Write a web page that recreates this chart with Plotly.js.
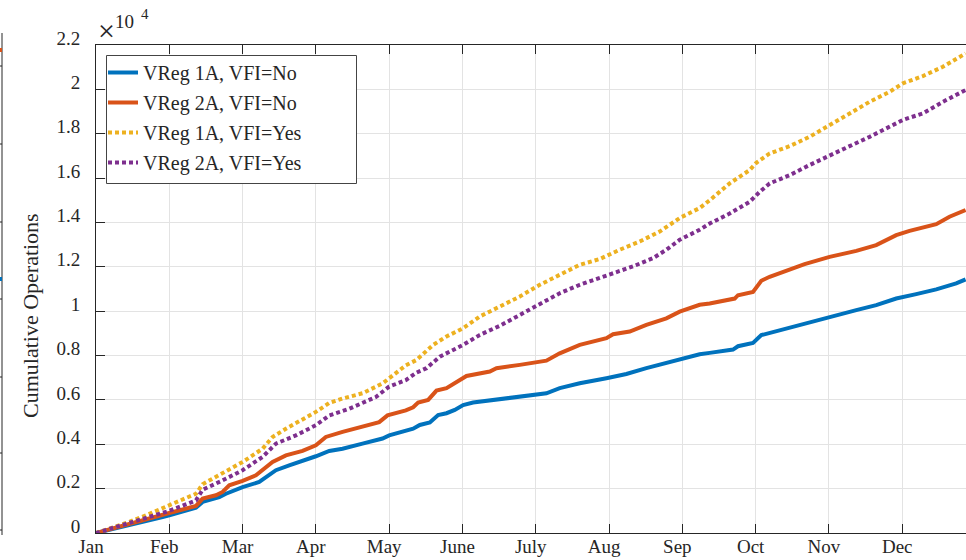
<!DOCTYPE html>
<html>
<head>
<meta charset="utf-8">
<script src="https://cdn.plot.ly/plotly-3.0.1.min.js"></script>
<style>html,body{margin:0;padding:0;background:#fff;}#chart{width:966px;height:560px;}</style>
</head>
<body>
<div id="chart"></div>
<script>
// Month tick labels (x positions are month indices, Jan = 0)
const monthLabels = ['Jan','Feb','Mar','Apr','May','June','July','Aug','Sep','Oct','Nov','Dec'];
const monthTicks = [0,1,2,3,4,5,6,7,8,9,10,11];
const yTickVals = [0,2000,4000,6000,8000,10000,12000,14000,16000,18000,20000,22000];
const yTickText = ['0','0.2','0.4','0.6','0.8','1','1.2','1.4','1.6','1.8','2','2.2'];

const seriesNames = ['VReg 1A, VFI=No','VReg 2A, VFI=No','VReg 1A, VFI=Yes','VReg 2A, VFI=Yes'];

// VReg 1A, VFI=No
const xReg1No = [0,0.227,0.455,0.682,0.909,1.0,1.182,1.364,1.455,1.545,1.682,1.773,2.0,2.227,2.273,2.455,2.636,2.818,3.0,3.182,3.364,3.636,3.909,4.0,4.227,
  4.327,4.418,4.555,4.668,4.782,4.895,5.009,5.145,5.418,5.691,5.964,6.145,6.327,6.6,6.964,7.236,7.509,7.782,7.964,8.236,
  8.373,8.691,8.759,8.964,9.077,9.191,9.464,9.736,10.009,10.373,10.645,10.918,11.191,11.464,11.736,11.864];
const yReg1No = [0,170,350,540,720,800,950,1140,1400,1500,1620,1770,2070,2300,2400,2830,3050,3250,3460,3700,3800,4030,4260,4400,4630,
  4700,4870,4980,5320,5400,5550,5770,5880,6000,6120,6230,6300,6530,6750,6980,7170,7430,7650,7830,8060,
  8120,8270,8420,8570,8920,9020,9260,9520,9770,10050,10270,10570,10770,10980,11250,11430];

// VReg 2A, VFI=No
const xReg2No = [0,0.455,0.682,1.0,1.364,1.455,1.636,1.727,1.818,2.0,2.182,2.273,2.409,2.591,2.818,3.0,3.136,3.364,3.591,3.864,3.977,4.227,
  4.327,4.395,4.532,4.645,4.782,4.941,5.055,5.373,5.464,5.782,5.964,6.145,6.327,6.509,6.6,6.964,7.055,7.282,7.509,7.782,7.964,8.236,
  8.373,8.714,8.759,8.964,9.077,9.191,9.464,9.668,10.009,10.373,10.645,10.918,11.1,11.464,11.645,11.864];
const yReg2No = [0,420,650,900,1220,1550,1700,1850,2150,2350,2600,2830,3200,3500,3700,3950,4330,4560,4780,5000,5300,5530,
  5670,5880,6000,6420,6530,6870,7080,7280,7430,7580,7680,7770,8100,8330,8480,8780,8960,9080,9380,9680,9980,10290,
  10350,10570,10720,10870,11370,11550,11880,12120,12450,12720,12980,13430,13620,13920,14260,14560];

// VReg 1A, VFI=Yes
const xReg1Yes = [0,0.455,0.682,1.0,1.364,1.455,1.727,2.0,2.273,2.409,2.591,2.818,3.0,3.182,3.364,3.636,3.909,4.227,
  4.373,4.6,4.782,5.009,5.236,5.509,5.782,6.055,6.327,6.6,6.873,7.145,7.418,7.691,7.964,8.236,
  8.373,8.645,8.918,9.009,9.191,9.464,9.736,10.009,10.282,10.555,10.827,11.009,11.282,11.555,11.864];
const yReg1Yes = [0,500,800,1250,1770,2200,2680,3200,3800,4330,4700,5100,5460,5860,6060,6300,6740,7560,
  7800,8480,8860,9230,9760,10210,10660,11190,11640,12090,12350,12770,13140,13590,14200,14650,
  15000,15760,16360,16690,17110,17440,17860,18390,18890,19440,19890,20270,20600,21020,21620];

// VReg 2A, VFI=Yes
const xReg2Yes = [0,0.455,0.682,1.0,1.364,1.455,1.727,2.0,2.273,2.455,2.727,3.0,3.182,3.455,3.818,4.0,4.227,
  4.373,4.509,4.691,5.009,5.236,5.509,5.782,6.055,6.327,6.6,6.873,7.055,7.327,7.6,7.782,7.964,8.236,
  8.373,8.645,8.918,9.055,9.191,9.464,9.736,10.009,10.282,10.555,10.827,11.009,11.282,11.555,11.864];
const yReg2Yes = [0,450,700,1000,1470,1950,2370,2830,3430,4030,4400,4860,5300,5600,6130,6600,6890,
  7230,7430,7950,8480,8930,9340,9830,10360,10810,11190,11490,11710,12020,12390,12770,13220,13670,
  13950,14400,14930,15380,15760,16130,16590,17040,17440,17860,18320,18620,18920,19440,19970];

const colors = ['#0072BD','#D95319','#EDB120','#7E2F8E'];
const dashes = ['solid','solid','4px,3px','4px,3px'];
const xs = [xReg1No, xReg2No, xReg1Yes, xReg2Yes];
const ys = [yReg1No, yReg2No, yReg1Yes, yReg2Yes];

const traces = xs.map((x, i) => ({
  x: x, y: ys[i], type: 'scatter', mode: 'lines', name: seriesNames[i],
  legendgroup: 'g' + i,
  line: {color: colors[i], width: 4, dash: dashes[i]}
}));

const font = 'Liberation Serif, Times New Roman, serif';
const axisColor = '#262626';

const shapes = [];
const pxX = p => (p - 96) / 870;
const pxY = p => (533 - p) / 488;
// legend frame (wider than the entries, as in the original)
shapes.push({type:'rect', xref:'paper', yref:'paper', layer:'above',
  x0:pxX(106.5), x1:pxX(356.5), y0:pxY(183.5), y1:pxY(55.5),
  fillcolor:'#ffffff', line:{color:'#444444', width:1}});
// neighbouring (cropped) axis edge at far left
shapes.push({type:'line', xref:'paper', yref:'paper', x0:pxX(2), x1:pxX(2), y0:pxY(33), y1:pxY(535), line:{color:axisColor, width:1}});
[66,144,222,299,377,453,530].forEach(t => shapes.push({type:'line', xref:'paper', yref:'paper', x0:pxX(0), x1:pxX(2), y0:pxY(t), y1:pxY(t), line:{color:axisColor, width:1}}));
shapes.push({type:'line', xref:'paper', yref:'paper', x0:pxX(0), x1:pxX(2), y0:pxY(50), y1:pxY(50), line:{color:'#D95319', width:4}});
shapes.push({type:'line', xref:'paper', yref:'paper', x0:pxX(0), x1:pxX(2), y0:pxY(279), y1:pxY(279), line:{color:'#0072BD', width:4}});

const layout = {
  width: 966, height: 560,
  margin: {l: 96, r: 0, t: 45, b: 27, pad: 0},
  paper_bgcolor: '#ffffff', plot_bgcolor: '#ffffff',
  font: {family: font, size: 19, color: axisColor},
  showlegend: true,
  legend: {
    x: pxX(103), y: pxY(53), xanchor: 'left', yanchor: 'top',
    bgcolor: 'rgba(0,0,0,0)', borderwidth: 0,
    font: {family: font, size: 20, color: axisColor},
    traceorder: 'grouped', tracegroupgap: 1
  },
  xaxis: {
    range: [0, 11.87], tickvals: monthTicks, ticktext: monthLabels,
    ticks: 'inside', ticklen: 9, tickcolor: axisColor, tickwidth: 1,
    showline: true, linecolor: axisColor, linewidth: 1, mirror: 'ticks',
    showgrid: true, gridcolor: '#e3e3e3', gridwidth: 1, zeroline: false,
    tickfont: {family: font, size: 19, color: axisColor},
    ticklabelshift: -5, ticklabelstandoff: -4
  },
  yaxis: {
    range: [0, 22000], tickvals: yTickVals, ticktext: yTickText,
    ticks: 'inside', ticklen: 9, tickcolor: axisColor, tickwidth: 1,
    showline: true, linecolor: axisColor, linewidth: 1, mirror: false,
    showgrid: true, gridcolor: '#e3e3e3', gridwidth: 1, zeroline: false,
    tickfont: {family: font, size: 19, color: axisColor},
    ticklabelshift: -7, ticklabelstandoff: 11
  },
  annotations: [
    {xref: 'paper', yref: 'paper', x: pxX(30), y: pxY(316), xanchor: 'center', yanchor: 'middle',
     textangle: -90, text: 'Cumulative Operations', showarrow: false,
     font: {family: font, size: 22, color: axisColor}},
    {xref: 'paper', yref: 'paper', x: pxX(106), y: pxY(31), xanchor: 'center', yanchor: 'middle',
     text: '×', showarrow: false, font: {family: font, size: 30, color: axisColor}},
    {xref: 'paper', yref: 'paper', x: pxX(124), y: pxY(22), xanchor: 'center', yanchor: 'middle',
     text: '10', showarrow: false, font: {family: font, size: 19, color: axisColor}},
    {xref: 'paper', yref: 'paper', x: pxX(145), y: pxY(14), xanchor: 'center', yanchor: 'middle',
     text: '4', showarrow: false, font: {family: font, size: 15, color: axisColor}}
  ],
  shapes: shapes,
  hovermode: false
};

Plotly.newPlot('chart', traces, layout, {displayModeBar: false, staticPlot: true});
</script>
</body>
</html>
